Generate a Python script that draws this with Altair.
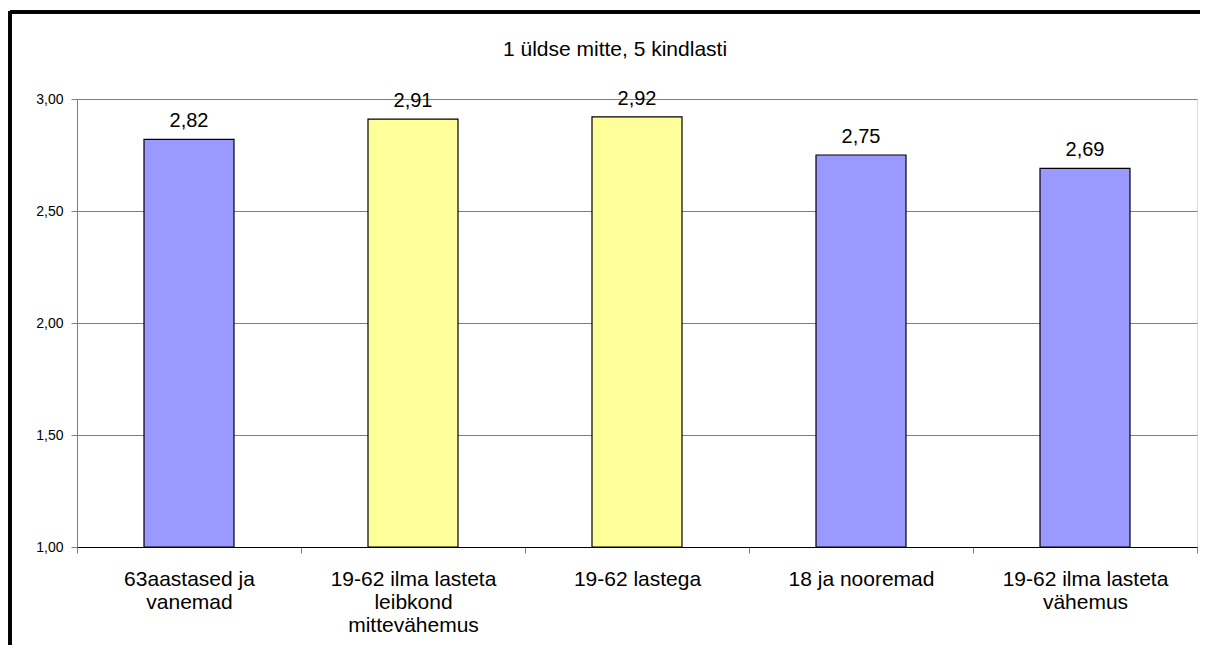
import altair as alt
import pandas as pd

categories = [
    "63aastased ja\nvanemad",
    "19-62 ilma lasteta\nleibkond\nmittevähemus",
    "19-62 lastega",
    "18 ja nooremad",
    "19-62 ilma lasteta\nvähemus",
]
values = [2.82, 2.91, 2.92, 2.75, 2.69]
groups = ["A", "B", "B", "A", "A"]
title_text = "1 üldse mitte, 5 kindlasti"

df = pd.DataFrame({"cat": categories, "val": values, "grp": groups})
title_df = pd.DataFrame({"t": [title_text]})

W, H = 1120, 448
FONT = "Liberation Sans"

base = alt.Chart(df)

x_enc = alt.X(
    "cat:N",
    sort=categories,
    title=None,
    scale=alt.Scale(paddingInner=0, paddingOuter=0),
    axis=alt.Axis(
        labelAngle=0,
        labelExpr="split(datum.label, '\\n')",
        labelFontSize=21,
        labelFont=FONT,
        labelColor="#000000",
        labelLineHeight=23,
        labelBaseline="top",
        labelPadding=15,
        tickBand="extent",
        tickSize=6,
        tickColor="#808080",
        domainColor="#000000",
        grid=False,
        labelLimit=300,
    ),
)

bars = base.mark_bar(size=90, stroke="#000000", strokeWidth=1.2).encode(
    x=x_enc,
    y=alt.Y(
        "val:Q",
        title=None,
        scale=alt.Scale(domain=[1, 3], nice=False, zero=False),
        axis=alt.Axis(
            values=[1.0, 1.5, 2.0, 2.5, 3.0],
            labelExpr="replace(format(datum.value, '.2f'), '.', ',')",
            labelFontSize=14,
            labelFont=FONT,
            labelColor="#000000",
            labelPadding=8,
            tickSize=6,
            tickColor="#808080",
            domainColor="#808080",
            gridColor="#808080",
            gridWidth=1,
            gridOpacity=1,
        ),
    ),
    y2=alt.datum(1),
    color=alt.Color(
        "grp:N",
        scale=alt.Scale(domain=["A", "B"], range=["#9999FF", "#FFFF99"]),
        legend=None,
    ),
)

labels = base.transform_calculate(
    lab="replace(format(datum.val, '.2f'), '.', ',')"
).mark_text(
    baseline="alphabetic", dy=-12, fontSize=20, font=FONT, color="#000000"
).encode(
    x=alt.X("cat:N", sort=categories),
    y=alt.Y("val:Q"),
    text="lab:N",
)

title = alt.Chart(title_df).mark_text(
    baseline="alphabetic", align="center", fontSize=21, font=FONT, color="#000000"
).encode(
    x=alt.value(W / 2 - 22), y=alt.value(-43), text="t:N"
)

frame_top = base.mark_rule(color="#000000", strokeWidth=3).encode(
    x=alt.value(-67), x2=alt.value(W + 20), y=alt.value(-87)
)
frame_left = base.mark_rule(color="#000000", strokeWidth=3).encode(
    x=alt.value(-67), y=alt.value(-88), y2=alt.value(H + 120)
)

chart = (
    alt.layer(bars, labels, title, frame_top, frame_left)
    .properties(
        width=W,
        height=H,
        autosize=alt.AutoSizeParams(type="none"),
        padding={"left": 69, "top": 91, "right": 3, "bottom": 98},
    )
    .configure_view(stroke=None)
    .configure(background="#ffffff")
)

chart.save("out.html", embed_options={"renderer": "svg", "actions": False})
